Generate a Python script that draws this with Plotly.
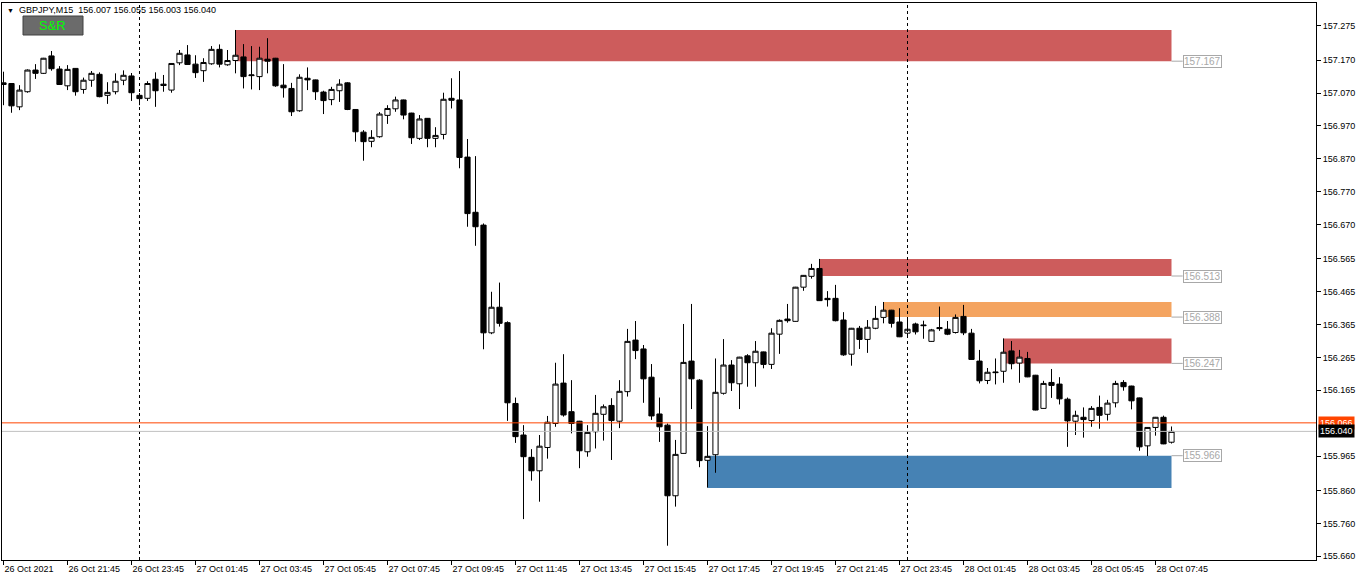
import pandas as pd
import plotly.graph_objects as go

# ---------------- data ----------------
start_time = "2021-10-26 19:45"
n_bars = 147

open_ = [157.101,157.099,157.028,157.074,157.140,157.130,157.183,157.143,157.092,157.145,
         157.081,157.109,157.127,157.063,157.074,157.109,157.122,157.063,157.054,157.112,
         157.097,157.079,157.162,157.186,157.158,157.138,157.159,157.203,157.156,157.169,
         157.180,157.123,157.120,157.173,157.176,157.094,157.084,157.016,157.115,157.110,
         157.073,157.050,157.077,157.101,157.020,156.951,156.923,156.937,157.002,157.022,
         157.049,157.009,156.932,156.993,156.932,156.944,157.054,157.049,156.875,156.707,
         156.668,156.340,156.418,156.371,156.125,156.029,155.961,155.920,155.991,156.064,
         156.187,156.100,156.071,155.978,156.039,156.092,156.119,156.071,156.161,156.318,
         156.291,156.205,156.093,156.059,155.844,155.973,156.254,156.196,155.952,155.969,
         156.156,156.242,156.185,156.270,156.249,156.282,156.244,156.336,156.382,156.375,
         156.479,156.512,156.536,156.445,156.445,156.379,156.275,156.354,156.320,156.354,
         156.387,156.409,156.373,156.339,156.367,156.364,156.314,156.356,156.351,156.341,
         156.390,156.339,156.254,156.195,156.221,156.223,156.285,156.248,156.262,156.211,
         156.110,156.189,156.184,156.138,156.071,156.083,156.073,156.113,156.092,156.127,
         156.189,156.178,156.142,155.996,156.052,156.083,156.007]

high = [157.135,157.100,157.094,157.142,157.158,157.177,157.198,157.152,157.155,157.146,
        157.117,157.137,157.133,157.103,157.130,157.139,157.131,157.070,157.106,157.133,
        157.125,157.161,157.201,157.216,157.185,157.176,157.213,157.218,157.201,157.262,
        157.219,157.213,157.211,157.237,157.177,157.158,157.101,157.127,157.148,157.111,
        157.077,157.089,157.112,157.103,157.021,156.957,156.957,157.012,157.033,157.059,
        157.050,157.010,157.003,156.994,156.966,157.071,157.115,157.137,156.930,156.878,
        156.673,156.465,156.493,156.375,156.143,156.059,155.986,156.029,156.087,156.249,
        156.275,156.196,156.072,156.059,156.151,156.122,156.141,156.196,156.352,156.376,
        156.303,156.245,156.143,156.064,156.014,156.367,156.428,156.199,156.056,156.262,
        156.321,156.257,156.267,156.275,156.315,156.283,156.354,156.381,156.428,156.480,
        156.516,156.550,156.565,156.467,156.486,156.403,156.355,156.361,156.379,156.422,
        156.434,156.410,156.415,156.385,156.371,156.377,156.352,156.420,156.376,156.396,
        156.425,156.352,156.288,156.233,156.262,156.323,156.315,156.288,156.282,156.212,
        156.194,156.230,156.205,156.143,156.103,156.113,156.117,156.149,156.136,156.194,
        156.196,156.179,156.143,156.053,156.084,156.088,156.055]

low = [157.033,157.010,157.018,157.071,157.113,157.128,157.138,157.095,157.079,157.062,
       157.068,157.089,157.057,157.037,157.066,157.094,157.046,157.033,157.046,157.028,
       157.074,157.071,157.155,157.156,157.116,157.104,157.156,157.148,157.153,157.130,
       157.084,157.081,157.079,157.130,157.089,157.056,157.000,157.013,157.079,157.049,
       157.006,157.033,157.043,157.018,156.922,156.864,156.905,156.934,156.976,157.013,
       156.990,156.915,156.927,156.905,156.905,156.929,157.023,156.841,156.663,156.605,
       156.290,156.336,156.359,156.072,156.005,155.773,155.890,155.826,155.957,156.054,
       156.085,156.034,155.928,155.963,155.988,156.012,155.953,156.050,156.146,156.260,
       156.127,156.075,156.008,155.692,155.811,155.972,156.108,155.931,155.869,155.914,
       156.152,156.163,156.108,156.176,156.176,156.232,156.230,156.276,156.371,156.374,
       156.468,156.505,156.437,156.420,156.375,156.270,156.240,156.291,156.279,156.351,
       156.369,156.356,156.327,156.330,156.335,156.322,156.313,156.346,156.333,156.338,
       156.333,156.258,156.186,156.184,156.183,156.188,156.229,156.188,156.205,156.104,
       156.109,156.142,156.122,155.993,156.029,156.021,156.054,156.048,156.073,156.113,
       156.164,156.107,155.981,155.965,156.027,156.001,156.003]

close = [157.096,157.031,157.079,157.140,157.130,157.176,157.144,157.096,157.142,157.074,
         157.109,157.130,157.059,157.072,157.106,157.124,157.071,157.053,157.099,157.077,
         157.093,157.160,157.191,157.157,157.132,157.163,157.203,157.158,157.169,157.185,
         157.120,157.125,157.176,157.167,157.092,157.086,157.013,157.118,157.110,157.074,
         157.047,157.081,157.097,157.020,156.952,156.922,156.935,157.006,157.023,157.049,
         157.003,156.934,156.991,156.932,156.941,157.051,157.048,156.874,156.703,156.663,
         156.340,156.418,156.369,156.127,156.024,155.963,155.920,155.995,156.068,156.184,
         156.090,156.064,155.981,156.037,156.095,156.115,156.073,156.162,156.314,156.286,
         156.200,156.087,156.054,155.844,155.970,156.250,156.200,155.951,155.964,156.159,
         156.242,156.188,156.266,156.249,156.284,156.244,156.339,156.378,156.377,156.479,
         156.515,156.536,156.438,156.441,156.377,156.273,156.354,156.320,156.357,156.384,
         156.409,156.369,156.328,156.351,156.343,156.362,156.349,156.353,156.336,156.387,
         156.340,156.259,156.194,156.220,156.219,156.281,156.246,156.266,156.206,156.105,
         156.186,156.180,156.139,156.072,156.089,156.076,156.110,156.089,156.126,156.186,
         156.176,156.133,155.993,156.052,156.083,156.002,156.040]

# supply / demand zones
zone_start_bar = [29, 102, 110, 125, 88]
zone_low = [157.167, 156.513, 156.388, 156.247, 155.868]
zone_high = [157.262, 156.565, 156.434, 156.323, 155.966]
zone_label = ["157.167", "156.513", "156.388", "156.247", "155.966"]
zone_label_price = [157.167, 156.513, 156.388, 156.247, 155.966]
zone_color = ["#CD5C5C", "#CD5C5C", "#F4A460", "#CD5C5C", "#4682B4"]

# day separators
separator_bars = [17, 113]

# axis ticks
x_tick_bars = list(range(0, 147, 8))
x_tick_text = ["26 Oct 2021", "26 Oct 21:45", "26 Oct 23:45", "27 Oct 01:45", "27 Oct 03:45",
               "27 Oct 05:45", "27 Oct 07:45", "27 Oct 09:45", "27 Oct 11:45", "27 Oct 13:45",
               "27 Oct 15:45", "27 Oct 17:45", "27 Oct 19:45", "27 Oct 21:45", "27 Oct 23:45",
               "28 Oct 01:45", "28 Oct 03:45", "28 Oct 05:45", "28 Oct 07:45"]
y_tick_vals = [157.275, 157.170, 157.070, 156.970, 156.870, 156.770, 156.670, 156.565,
               156.465, 156.365, 156.265, 156.165, 155.965, 155.860, 155.760, 155.660]
y_tick_text = ["157.275", "157.170", "157.070", "156.970", "156.870", "156.770", "156.670",
               "156.565", "156.465", "156.365", "156.265", "156.165", "155.965", "155.860",
               "155.760", "155.660"]

bid_price = 156.040
ask_price = 156.066
title_text = "GBPJPY,M15  156.007 156.055 156.003 156.040"

# ---------------- figure ----------------
W, H = 1362, 581
ML, MR, MT, MB = 2, 46, 3, 21
PW, PH = W - ML - MR, H - MT - MB
FONT = "Liberation Sans, Arial, sans-serif"

times = pd.date_range(start_time, periods=n_bars, freq="15min")
bar = pd.Timedelta(minutes=15)


def px_x(px):
    return (px - ML) / PW


def px_y(py):
    return (H - MB - py) / PH


fig = go.Figure()
fig.add_trace(go.Candlestick(
    x=times, open=open_, high=high, low=low, close=close,
    increasing=dict(line=dict(color="black", width=1), fillcolor="white"),
    decreasing=dict(line=dict(color="black", width=1), fillcolor="black"),
    whiskerwidth=0, hoverinfo="skip",
))

shapes = []
annotations = []
last_t = times[-1]
for s, lo, hi, col, lab, lp in zip(zone_start_bar, zone_low, zone_high, zone_color,
                                   zone_label, zone_label_price):
    shapes.append(dict(type="rect", xref="x", yref="y", x0=times[s], x1=last_t,
                       y0=lo, y1=hi, fillcolor=col, line=dict(width=0), layer="below"))
    shapes.append(dict(type="line", xref="x", yref="y", x0=last_t, x1=last_t + 1.4 * bar,
                       y0=lp, y1=lp, line=dict(color="#a8a8a8", width=1)))
    annotations.append(dict(xref="x", yref="y", x=last_t + 1.4 * bar, y=lp, text=lab,
                            showarrow=False, xanchor="left", yanchor="middle",
                            font=dict(family=FONT, size=10, color="#a8a8a8"),
                            bordercolor="#a8a8a8", borderwidth=1, borderpad=0,
                            bgcolor="white"))

for b in separator_bars:
    shapes.append(dict(type="line", xref="x", yref="paper", x0=times[b], x1=times[b],
                       y0=0, y1=1, line=dict(color="black", width=1, dash="dot")))

# bid / ask lines
shapes.append(dict(type="line", xref="paper", yref="y", x0=0, x1=1, y0=ask_price, y1=ask_price,
                   line=dict(color="#FF4500", width=1)))
shapes.append(dict(type="line", xref="paper", yref="y", x0=0, x1=1, y0=bid_price, y1=bid_price,
                   line=dict(color="#C0C0C0", width=1)))

annotations.append(dict(xref="paper", yref="y", x=1, y=ask_price, xshift=2, text="156.066",
                        showarrow=False, xanchor="left", yanchor="middle",
                        font=dict(family=FONT, size=9, color="white"),
                        bgcolor="#FF4500", borderpad=1))
annotations.append(dict(xref="paper", yref="y", x=1, y=bid_price, xshift=2, text="156.040",
                        showarrow=False, xanchor="left", yanchor="middle",
                        font=dict(family=FONT, size=9, color="white"),
                        bgcolor="black", borderpad=1))

# header
annotations.append(dict(xref="paper", yref="paper", x=px_x(5), y=px_y(10), text="▼",
                        showarrow=False, xanchor="left", yanchor="middle",
                        font=dict(family=FONT, size=7, color="black")))
annotations.append(dict(xref="paper", yref="paper", x=px_x(17), y=px_y(10), text=title_text,
                        showarrow=False, xanchor="left", yanchor="middle",
                        font=dict(family=FONT, size=9, color="black")))
# S&R button
shapes.append(dict(type="rect", xref="paper", yref="paper", x0=px_x(23), x1=px_x(83),
                   y0=px_y(35), y1=px_y(16), fillcolor="#6B6B6B",
                   line=dict(color="#404040", width=1)))
annotations.append(dict(xref="paper", yref="paper", x=px_x(52), y=px_y(25.5), text="S&R",
                        showarrow=False, xanchor="center", yanchor="middle",
                        font=dict(family=FONT, size=13, color="#00FF00")))

x_left = times[0] - 0.1875 * bar
x_right = times[0] + 164.0625 * bar

fig.update_layout(
    width=W, height=H, margin=dict(l=ML, r=MR, t=MT, b=MB),
    paper_bgcolor="white", plot_bgcolor="white", showlegend=False,
    boxgap=0.35, boxgroupgap=0,
    shapes=shapes, annotations=annotations,
    font=dict(family=FONT, size=9, color="black"),
    xaxis=dict(range=[x_left, x_right], rangeslider=dict(visible=False),
               showgrid=False, zeroline=False, showline=True, linecolor="black",
               linewidth=1, mirror=True, ticks="outside", ticklen=4, tickcolor="black",
               tickvals=[times[i] for i in x_tick_bars], ticktext=x_tick_text,
               ticklabelposition="outside right", tickfont=dict(size=9)),
    yaxis=dict(range=[155.6485, 157.3441], side="right", showgrid=False, zeroline=False,
               showline=True, linecolor="black", linewidth=1, mirror=True,
               ticks="outside", ticklen=4, tickcolor="black",
               tickvals=y_tick_vals, ticktext=y_tick_text, tickfont=dict(size=9)),
)

fig.write_html("out.html", config={"displayModeBar": False},
               post_script="document.body.style.margin='0';")
